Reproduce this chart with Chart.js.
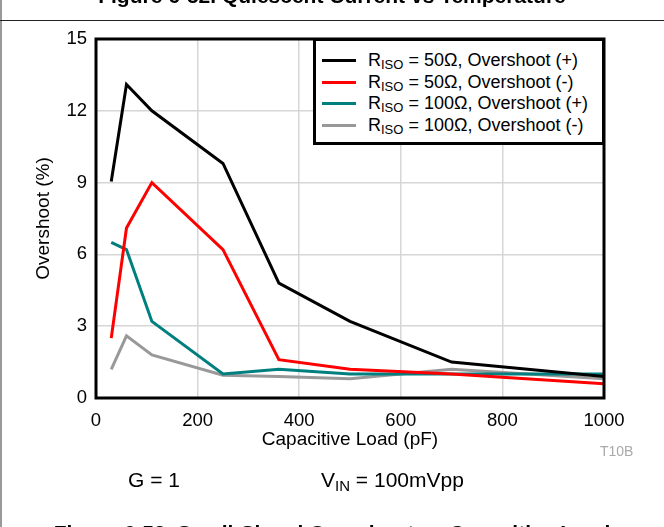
<!DOCTYPE html>
<html>
<head>
<meta charset="utf-8">
<script src="https://cdn.jsdelivr.net/npm/chart.js@4/dist/chart.umd.min.js"></script>
<style>
  html, body { margin:0; padding:0; background:#fff; }
  body { width:664px; height:527px; position:relative; overflow:hidden; font-family:"Liberation Sans", Arial, Helvetica, sans-serif; }
  #wrap { position:absolute; left:0; top:0; width:664px; height:527px; }
  .abs { position:absolute; white-space:nowrap; }
  #topTitle { left:0; width:664px; text-align:center; top:-16px; font-weight:bold; font-size:21px; line-height:24px; }
  #botTitle { left:0; width:664px; text-align:center; top:521px; font-weight:bold; font-size:21px; line-height:24px; }
  #hline { left:0; top:20px; width:664px; height:1px; background:#222; }
  #vline { left:0; top:0; width:2px; height:527px; background:#999; }
  #gain { left:128px; top:468px; font-size:21px; line-height:24px; }
  #vin { left:321px; top:468px; font-size:21px; line-height:24px; }
  #vin sub { font-size:15px; vertical-align:-4px; line-height:0; }
  #code { left:600px; top:443px; font-size:14px; line-height:16px; color:#aaa; }
  #legend { left:313px; top:38px; width:286px; height:101px; border:3px solid #000; background:#fff; }
  .item { position:absolute; left:6px; height:22px; font-size:18px; line-height:22px; }
  .item .sw { position:absolute; left:0px; top:10px; width:34px; height:3px; }
  .item .tx { position:absolute; left:46px; top:0; }
  .item sub { font-size:13px; vertical-align:-3px; line-height:0; }
</style>
</head>
<body>
<div id="wrap"><canvas id="c" width="664" height="527"></canvas></div>
<div class="abs" id="vline"></div>
<div class="abs" id="topTitle">Figure 6-52. Quiescent Current vs Temperature</div>
<div class="abs" id="hline"></div>
<div class="abs" id="code">T10B</div>
<div class="abs" id="gain">G = 1</div>
<div class="abs" id="vin">V<sub>IN</sub> = 100mVpp</div>
<div class="abs" id="botTitle">Figure 6-53. Small-Signal Overshoot vs Capacitive Load</div>
<div class="abs" id="legend"></div>
<script>
// ---- data ----
const capLoad = [30, 60, 110, 250, 360, 500, 700, 1000];            // pF
const r50Pos  = [9.05, 13.1, 12.0, 9.8, 4.8, 3.2, 1.5, 0.9];        // %
const r50Neg  = [2.5, 7.1, 9.0, 6.2, 1.6, 1.2, 1.0, 0.6];
const r100Pos = [6.5, 6.2, 3.2, 1.0, 1.2, 1.0, 1.0, 1.0];
const r100Neg = [1.2, 2.6, 1.8, 0.95, 0.9, 0.8, 1.2, 0.8];
const seriesLabels = ["RISO = 50Ω, Overshoot (+)", "RISO = 50Ω, Overshoot (-)", "RISO = 100Ω, Overshoot (+)", "RISO = 100Ω, Overshoot (-)"];
const legendRes = ["50Ω", "50Ω", "100Ω", "100Ω"];
const legendSign = ["(+)", "(-)", "(+)", "(-)"];
const seriesColors = ["#000000", "#ff0000", "#007f7f", "#999999"];
const xTicks = [0, 200, 400, 600, 800, 1000];
const yTicks = [0, 3, 6, 9, 12, 15];

const seriesValues = [r50Pos, r50Neg, r100Pos, r100Neg];
const datasets = seriesValues.map((vals, i) => ({
  label: seriesLabels[i],
  data: capLoad.map((x, j) => ({x: x, y: vals[j]})),
  borderColor: seriesColors[i],
  backgroundColor: seriesColors[i],
  borderWidth: 3,
  pointRadius: 0,
  tension: 0,
  borderJoinStyle: 'miter',
  fill: false,
  order: i
}));

const frame = {
  id: 'frame',
  afterDraw(chart) {
    const a = chart.chartArea, ctx = chart.ctx;
    ctx.save();
    ctx.strokeStyle = '#000';
    ctx.lineWidth = 3;
    ctx.strokeRect(a.left, a.top, a.right - a.left, a.bottom - a.top);
    ctx.restore();
  }
};

const FONT = "'Liberation Sans', Arial, Helvetica, sans-serif";
new Chart(document.getElementById('c'), {
  type: 'line',
  data: { datasets: datasets },
  options: {
    responsive: false,
    animation: false,
    layout: { padding: { left: 0, top: 39, right: 60, bottom: 75 } },
    plugins: { legend: { display: false }, tooltip: { enabled: false } },
    scales: {
      x: {
        type: 'linear', min: 0, max: 1000,
        afterBuildTicks: s => { s.ticks = xTicks.map(v => ({value: v})); },
        afterFit: s => { s.height = 54; },
        grid: { color: '#d6d6d6', lineWidth: 1.5, drawTicks: false },
        border: { display: false },
        ticks: { color: '#000', font: { family: FONT, size: 18.5 }, padding: 12, maxRotation: 0, callback: v => String(v) },
        title: { display: true, text: 'Capacitive Load (pF)', color: '#000', font: { family: FONT, size: 19 }, padding: { top: 0, bottom: 1 } }
      },
      y: {
        type: 'linear', min: 0, max: 15,
        afterBuildTicks: s => { s.ticks = yTicks.map(v => ({value: v})); },
        afterFit: s => { s.width = 96; },
        grid: { color: '#d6d6d6', lineWidth: 1.5, drawTicks: false },
        border: { display: false },
        ticks: { color: '#000', font: { family: FONT, size: 18.5 }, padding: 9, callback: v => String(v) },
        title: { display: true, text: 'Overshoot (%)', color: '#000', font: { family: FONT, size: 19 }, padding: { top: 32.5, bottom: 0 } }
      }
    }
  },
  plugins: [frame]
});

// HTML legend (needs subscripts)
const leg = document.getElementById('legend');
const rowTops = [8, 29.5, 51, 72.5];
seriesLabels.forEach((lab, i) => {
  const it = document.createElement('div');
  it.className = 'item';
  it.style.top = rowTops[i] + 'px';
  it.innerHTML = '<div class="sw" style="background:' + seriesColors[i] + '"></div>' +
    '<div class="tx">R<sub>ISO</sub> = ' + legendRes[i] + ', Overshoot ' + legendSign[i] + '</div>';
  leg.appendChild(it);
});
</script>
</body>
</html>
